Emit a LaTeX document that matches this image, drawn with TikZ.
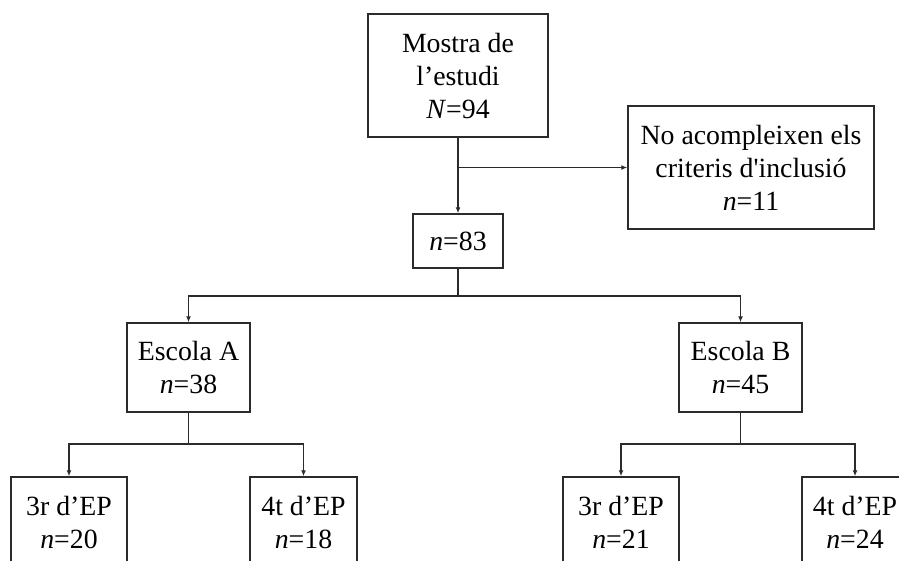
\documentclass[tikz,border=0pt]{standalone}
\usepackage{fontspec}
\setmainfont{Liberation Serif}
\usetikzlibrary{arrows.meta}
\definecolor{linec}{HTML}{2b2b2b}
\tikzset{
  box/.style={draw=linec, line width=1.5pt, rectangle, inner sep=0pt, align=center,
    font=\fontsize{27.8pt}{33pt}\selectfont, text=black},
  arr/.style={draw=linec, line width=1.5pt, -{Latex[length=6pt,width=5pt]}}
}
\begin{document}
\begin{tikzpicture}[x=1pt,y=-1pt]
\fill[white] (0,0) rectangle (899,560);
\useasboundingbox (0,0) rectangle (899,560);
\clip (0,0) rectangle (899,560);

\node[box, minimum width=180pt, minimum height=123pt] (top) at (458,75.5) {Mostra de\\l’estudi\\\textit{N}=94};
\node[box, minimum width=246pt, minimum height=123pt] (excl) at (751,167.5) {No acompleixen els\\criteris d\textquotesingle inclusió\\\textit{n}=11};
\node[box, minimum width=90pt, minimum height=54pt] (n83) at (458,241) {\textit{n}=83};
\node[box, minimum width=123pt, minimum height=89pt] (escA) at (188.5,367.5) {Escola A\\\textit{n}=38};
\node[box, minimum width=123pt, minimum height=89pt] (escB) at (740.5,367.5) {Escola B\\\textit{n}=45};

\node[box, minimum width=116pt, minimum height=90pt] (a3) at (69,522) {3r d’EP\\\textit{n}=20};
\node[box, minimum width=107pt, minimum height=90pt] (a4) at (303.5,522) {4t d’EP\\\textit{n}=18};
\node[box, minimum width=116pt, minimum height=90pt] (b3) at (621,522) {3r d’EP\\\textit{n}=21};
\node[box, minimum width=106pt, minimum height=90pt] (b4) at (855,522) {4t d’EP\\\textit{n}=24};

\coordinate (br) at (458,167.5);
\draw[arr] (top) -- (n83);
\draw[arr] (br) -- (excl);

\draw[arr] (n83.south) -- ++(0,27) -| (escA.north);
\draw[arr] (n83.south) -- ++(0,27) -| (escB.north);

\draw[arr] (escA.south) -- ++(0,31) -| (a3.north);
\draw[arr] (escA.south) -- ++(0,31) -| (a4.north);
\draw[arr] (escB.south) -- ++(0,31) -| (b3.north);
\draw[arr] (escB.south) -- ++(0,31) -| (b4.north);
\end{tikzpicture}
\end{document}
